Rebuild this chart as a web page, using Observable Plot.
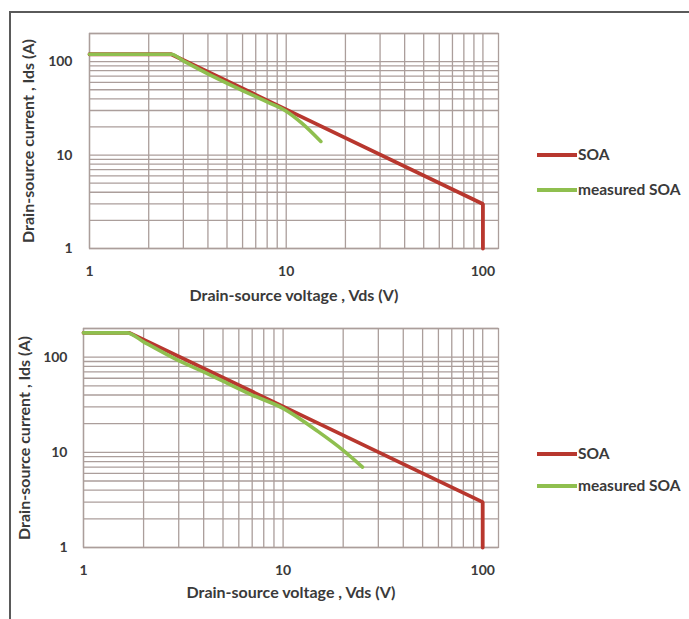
<!DOCTYPE html>
<html>
<head>
<meta charset="utf-8">
<script src="https://cdn.jsdelivr.net/npm/d3@7"></script>
<script src="https://cdn.jsdelivr.net/npm/@observablehq/plot@0.6"></script>
<style>
  html, body { margin: 0; padding: 0; background: #ffffff; }
  #wrap { position: relative; width: 689px; height: 619px; overflow: hidden; background: #fff; font-family: Lato, "Open Sans", sans-serif; }
  #border { position: absolute; left: 9px; top: 11px; width: 690px; height: 620px; border-top: 2px solid #5a5a5a; border-left: 2px solid #5a5a5a; }
  .chart { position: absolute; left: 0; }
  .chart svg text { font-weight: 700; }
  .leg { position: absolute; font-size: 15.5px; font-weight: 700; color: #3a3a3a; line-height: 15px; white-space: nowrap; }
  .leg .sw { display: inline-block; width: 40px; height: 3.5px; vertical-align: middle; margin-right: 1px; position: relative; top: -1px; }
</style>
</head>
<body>
<div id="wrap">
  <div id="border"></div>
  <div id="c1" class="chart" style="top:0px"></div>
  <div id="c2" class="chart" style="top:310px"></div>
  <div class="leg" style="left:537px; top:147px"><span class="sw" style="background:#b8372e"></span>SOA</div>
  <div class="leg" style="left:537px; top:182px"><span class="sw" style="background:#8fbf4f"></span>measured SOA</div>
  <div class="leg" style="left:537px; top:446px"><span class="sw" style="background:#b8372e"></span>SOA</div>
  <div class="leg" style="left:537px; top:478px"><span class="sw" style="background:#8fbf4f"></span>measured SOA</div>
</div>
<script>
// ---- data ----
const seriesNames = ["SOA", "measured SOA"];
const xTickLabels = [1, 10, 100];
const yTickLabels = [1, 10, 100];
const xGridValues = [1,2,3,4,5,6,7,8,9,10,20,30,40,50,60,70,80,90,100];
const yGridValues = [1,2,3,4,5,6,7,8,9,10,20,30,40,50,60,70,80,90,100,200];

// top chart
const topSoaV = [1, 2.6, 100, 100];
const topSoaI = [120, 120, 3, 1];
const topMeasV = [1, 2.6, 3, 4, 6, 8, 10, 12, 15];
const topMeasI = [120, 120, 102, 74, 49, 37, 29.5, 22, 14];

// bottom chart
const botSoaV = [1, 1.7, 100, 100];
const botSoaI = [180, 180, 3, 1];
const botMeasV = [1, 1.65, 2, 3, 4, 5, 7, 10, 15, 20, 25];
const botMeasI = [180, 180, 145, 92, 70, 56, 40, 29, 16.5, 10.5, 7];

const red = "#b8372e";
const green = "#8fbf4f";
const gridColor = "#ab9e9b";

function rows(V, I) { return V.map((v, i) => ({v, i: I[i]})); }

function chart(opts) {
  return Plot.plot({
    width: 689,
    height: opts.height,
    marginLeft: opts.ml,
    marginRight: 191,
    marginTop: opts.mt,
    marginBottom: opts.mb,
    style: { fontFamily: "Lato, 'Open Sans', sans-serif", fontSize: "14px", fontWeight: "700", color: "#3a3a3a", background: "transparent", overflow: "visible" },
    marks: [
      Plot.ruleX(xGridValues, { stroke: gridColor, strokeWidth: 1.3 }),
      Plot.ruleY(yGridValues, { stroke: gridColor, strokeWidth: 1.3 }),
      Plot.frame({ stroke: gridColor, strokeWidth: 1.3 }),
      Plot.axisX({ ticks: xTickLabels, tickFormat: d => String(d), tickSize: 0, tickPadding: 18, fontSize: 14,
                   label: null }),
      Plot.axisY({ ticks: yTickLabels, tickFormat: d => String(d), tickSize: 0, tickPadding: opts.ytp, fontSize: 14,
                   label: null }),
      Plot.axisX({ ticks: [], tickSize: 0, fontSize: 16, label: "Drain-source voltage , Vds (V)", labelAnchor: "center", labelOffset: opts.xlo, labelArrow: "none" }),
      Plot.axisY({ ticks: [], tickSize: 0, fontSize: 16, label: "Drain-source current , Ids (A)", labelAnchor: "center", labelOffset: opts.ylo, labelArrow: "none" }),
      Plot.line(rows(opts.soaV, opts.soaI), { x: "v", y: "i", stroke: red, strokeWidth: 3.8, strokeLinejoin: "miter" }),
      Plot.line(rows(opts.measV, opts.measI), { x: "v", y: "i", stroke: green, strokeWidth: 3.6, curve: "monotone-x" })
    ],
    x: { type: "log", domain: [1, 120] },
    y: { type: "log", domain: [1, 200] }
  });
}

document.getElementById("c1").appendChild(chart({
  height: 310, ml: 89, mt: 33, mb: 62, xlo: 52, ylo: 67, ytp: 17,
  soaV: topSoaV, soaI: topSoaI, measV: topMeasV, measI: topMeasI
}));
document.getElementById("c2").appendChild(chart({
  height: 309, ml: 83, mt: 18, mb: 72, xlo: 50, ylo: 65, ytp: 16,
  soaV: botSoaV, soaI: botSoaI, measV: botMeasV, measI: botMeasI
}));
</script>
</body>
</html>
